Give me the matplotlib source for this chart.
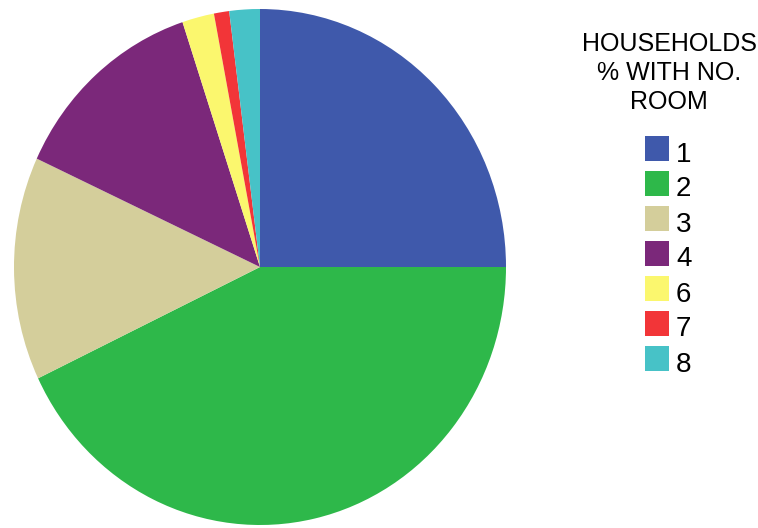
import matplotlib
matplotlib.use("Agg")
import matplotlib.pyplot as plt
from matplotlib.patches import Rectangle

plt.rcParams['font.family'] = ['Liberation Sans', 'DejaVu Sans']

# Share of households by number of rooms (%)
rooms = ["1", "2", "3", "4", "6", "7", "8"]
shares = [25.0, 42.9, 14.0, 13.0, 2.1, 1.0, 2.0]
colors = ["#3F59AB", "#2EB84A", "#D4CE9B", "#7B287A", "#FBF76E", "#F23538", "#47C2C7"]
legend_title = ["HOUSEHOLDS", "% WITH NO.", "ROOM"]

W, H = 758, 528
fig = plt.figure(figsize=(W / 100, H / 100), dpi=100)

# slightly tall elliptical pie: centre (260, 267) px, radii 246 x 258 px
cx, cy, rx, ry = 260, 267, 246, 258
ax = fig.add_axes([(cx - rx) / W, (H - cy - ry) / H, 2 * rx / W, 2 * ry / H])
ax.pie(shares, colors=colors, startangle=90, counterclock=False,
       radius=1.0, wedgeprops=dict(linewidth=0))
ax.set_aspect("auto")
ax.set_xlim(-1, 1)
ax.set_ylim(-1, 1)
ax.axis("off")

# legend title, one line at a time
for line, base in zip(legend_title, [51, 80, 109]):
    fig.text(669 / W, 1 - base / H, line, ha="center", va="baseline",
             fontsize=18)

# legend rows
top0, step = 136, 35
for i, (lab, col) in enumerate(zip(rooms, colors)):
    top = top0 + i * step
    fig.patches.append(Rectangle((645 / W, 1 - (top + 25) / H), 24 / W, 25 / H,
                                 transform=fig.transFigure, facecolor=col,
                                 edgecolor="none"))
    fig.text(676 / W, 1 - (top + 25.5) / H, lab, ha="left", va="baseline",
             fontsize=20)

fig.savefig("out.png", dpi=100)
